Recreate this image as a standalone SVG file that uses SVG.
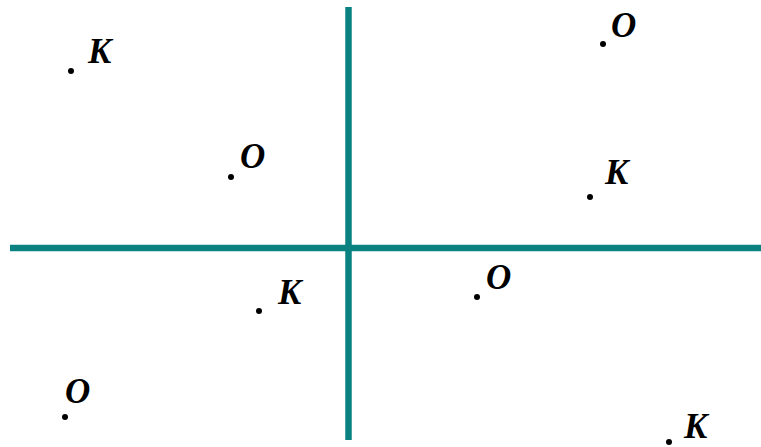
<svg xmlns="http://www.w3.org/2000/svg" width="761" height="447" viewBox="0 0 761 447">
<style>
.ax{stroke:#0b8282;stroke-width:6.5;fill:none}
.pt{fill:#000}
.lb{font-family:"Liberation Serif","Times New Roman",serif;font-weight:bold;font-style:italic;font-size:35px;fill:#000}
</style>
<rect width="761" height="447" fill="#fff"/>
<g id="axes">
<line class="ax" x1="348.5" y1="7" x2="348.5" y2="440"/>
<line class="ax" x1="10" y1="248" x2="761" y2="248"/>
</g>
<g id="p1"><circle class="pt" cx="71" cy="71" r="3"/><text class="lb" x="88" y="63">K</text></g>
<g id="p2"><circle class="pt" cx="231" cy="177" r="3"/><text class="lb" x="240" y="168">O</text></g>
<g id="p3"><circle class="pt" cx="259" cy="311" r="3"/><text class="lb" x="278" y="304">K</text></g>
<g id="p4"><circle class="pt" cx="65" cy="417" r="3"/><text class="lb" x="65" y="403">O</text></g>
<g id="p5"><circle class="pt" cx="603" cy="44" r="3"/><text class="lb" x="611" y="37">O</text></g>
<g id="p6"><circle class="pt" cx="590" cy="197" r="3"/><text class="lb" x="605" y="184">K</text></g>
<g id="p7"><circle class="pt" cx="477" cy="297" r="3"/><text class="lb" x="486" y="289">O</text></g>
<g id="p8"><circle class="pt" cx="669" cy="442" r="3"/><text class="lb" x="684" y="438">K</text></g>
</svg>
